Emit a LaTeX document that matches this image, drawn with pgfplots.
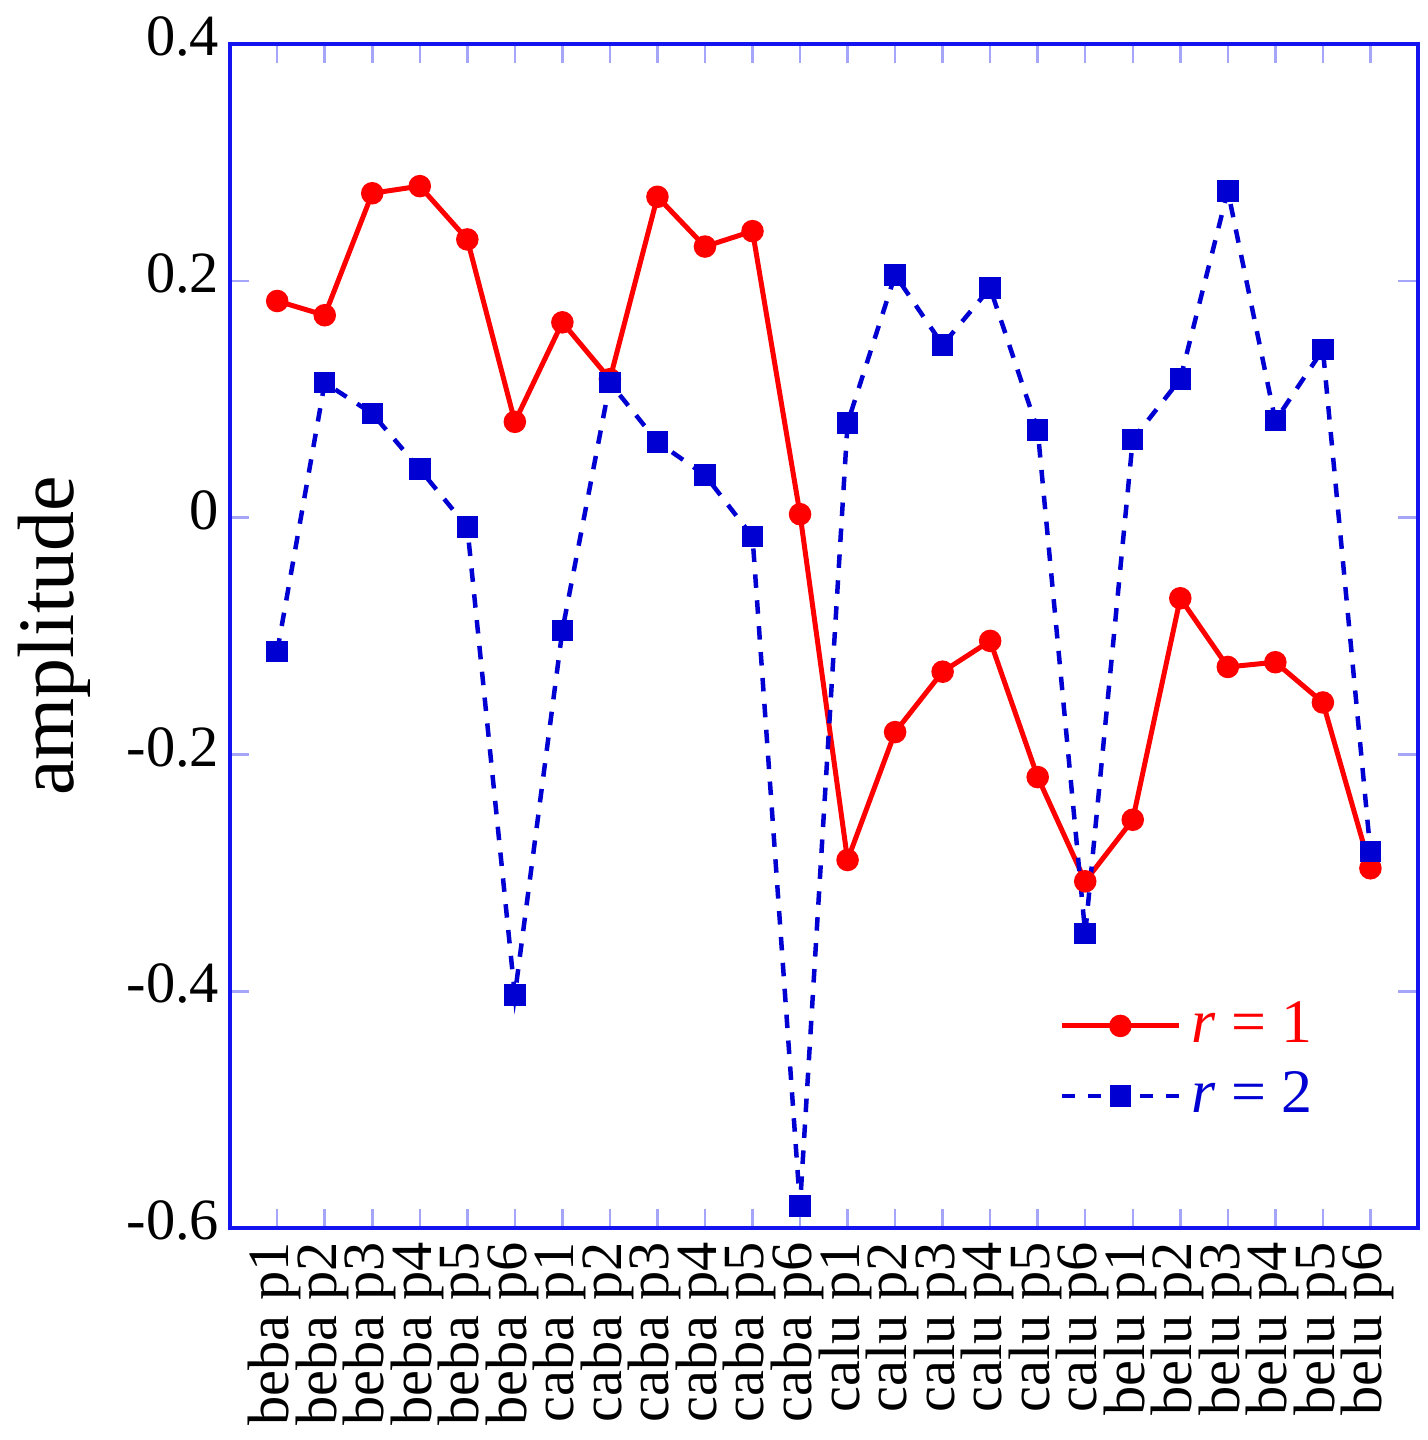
\documentclass[border=0pt]{standalone}
\usepackage{fontspec}
\setmainfont{Liberation Serif}
\usepackage{pgfplots}
\pgfplotsset{compat=1.18}
\definecolor{axblue}{RGB}{20,20,240}
\definecolor{serblue}{RGB}{0,0,210}
\definecolor{tickblue}{RGB}{165,165,250}
\pgfplotstableread{
x r1 r2
0 0.183 -0.113
1 0.171 0.114
2 0.274 0.088
3 0.280 0.041
4 0.235 -0.008
5 0.081 -0.403
6 0.165 -0.095
7 0.117 0.114
8 0.271 0.064
9 0.229 0.036
10 0.242 -0.016
11 0.003 -0.581
12 -0.289 0.080
13 -0.181 0.205
14 -0.130 0.146
15 -0.104 0.194
16 -0.219 0.074
17 -0.307 -0.351
18 -0.255 0.066
19 -0.068 0.117
20 -0.126 0.276
21 -0.122 0.082
22 -0.156 0.142
23 -0.296 -0.282
}\datatable
\begin{document}
\begin{tikzpicture}
\begin{axis}[
  scale only axis,
  width=238pt, height=237.2pt,
  xmin=-1, xmax=24, ymin=-0.6, ymax=0.4,
  xtick={0,...,23},
  xticklabels={beba p1,beba p2,beba p3,beba p4,beba p5,beba p6,
               caba p1,caba p2,caba p3,caba p4,caba p5,caba p6,
               calu p1,calu p2,calu p3,calu p4,calu p5,calu p6,
               belu p1,belu p2,belu p3,belu p4,belu p5,belu p6},
  ytick={-0.6,-0.4,-0.2,0,0.2,0.4},
  /pgf/number format/assume math mode=true,
  x tick label style={rotate=90, anchor=mid east, inner xsep=2.6pt,
                      font=\fontsize{11.7}{13}\selectfont},
  y tick label style={anchor=mid east, inner xsep=1.9pt,
                      font=\fontsize{11.7}{13}\selectfont},
  axis line style={axblue, line width=0.8pt},
  major tick style={tickblue, line width=0.5pt},
  major tick length=3.9pt,
  ylabel={amplitude},
  ylabel style={at={(axis description cs:-0.179,0.5)}, anchor=north, inner sep=0pt,
                font=\fontsize{16}{18}\selectfont},
  legend style={draw=none, fill=none, at={(0.933,0.209)}, anchor=north east,
                font=\fontsize{12.4}{14}\selectfont, row sep=0.3pt},
  legend cell align=left,
  legend image code/.code={
    \draw[mark repeat=2,mark phase=2,#1] plot coordinates {(0pt,0pt) (11.7pt,0pt) (23.4pt,0pt)};
  },
]
\addplot[red, line width=1pt, mark=*, mark size=1.75pt] table[x=x, y=r1] {\datatable};
\addlegendentry{\textcolor{red}{\textit{r} = 1}}
\addplot[serblue, line width=0.9pt, dash pattern=on 2.7pt off 2.5pt, mark=square*, mark size=1.7pt, mark options={solid}] table[x=x, y=r2] {\datatable};
\addlegendentry{\textcolor{serblue}{\textit{r} = 2}}
\end{axis}
\path (current axis.south west) ++(-46pt,-42.4pt) rectangle ([xshift=2pt,yshift=8.4pt]current axis.north east);
\end{tikzpicture}
\end{document}
